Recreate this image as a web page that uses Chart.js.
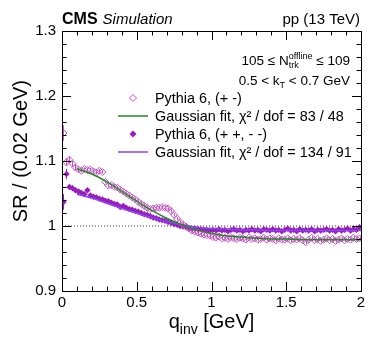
<!DOCTYPE html>
<html>
<head>
<meta charset="utf-8">
<script src="https://cdn.jsdelivr.net/npm/chart.js@4.4.0/dist/chart.umd.min.js"></script>
<style>
  html, body { margin: 0; padding: 0; background: #fff; }
</style>
</head>
<body>
<canvas id="c" width="374" height="357"></canvas>
<script>
// SR vs q_inv, bins of 0.02 GeV (bin centres 0.01 ... 1.99)
const binWidth = 0.02;

// Pythia 6, (+ -)
const srOpposite = [
  1.143, 1.098, 1.102, 1.096, 1.090, 1.087, 1.085, 1.088, 1.086, 1.087,
  1.084, 1.082, 1.085, 1.083, 1.068, 1.062, 1.063, 1.060, 1.059, 1.056,
  1.053, 1.050, 1.047, 1.044, 1.041, 1.037, 1.034, 1.031, 1.028, 1.026,
  1.027, 1.028, 1.028, 1.029, 1.028, 1.027, 1.023, 1.017, 1.011, 1.006,
  1.002, 0.999, 0.996, 0.993, 0.991, 0.990, 0.988, 0.987, 0.986, 0.985,
  0.983, 0.982, 0.984, 0.981, 0.982, 0.980, 0.983, 0.981, 0.980, 0.982,
  0.981, 0.979, 0.982, 0.980, 0.981, 0.979, 0.980, 0.982, 0.979, 0.981,
  0.980, 0.978, 0.981, 0.979, 0.979, 0.981, 0.978, 0.980, 0.979, 0.981,
  0.978, 0.975, 0.979, 0.982, 0.978, 0.980, 0.977, 0.979, 0.981, 0.978,
  0.980, 0.977, 0.979, 0.981, 0.978, 0.980, 0.979, 0.982, 0.980, 0.981
];
// Pythia 6, (+ +, - -)
const srSame = [
  1.037, 1.080, 1.060, 1.058, 1.055, 1.053, 1.051, 1.049, 1.055, 1.047,
  1.045, 1.044, 1.042, 1.041, 1.039, 1.038, 1.036, 1.034, 1.033, 1.029,
  1.031, 1.028, 1.026, 1.025, 1.023, 1.022, 1.020, 1.018, 1.017, 1.015,
  1.013, 1.012, 1.010, 1.009, 1.008, 1.006, 1.005, 1.003, 1.002, 1.000,
  0.999, 0.998, 0.997, 0.996, 0.996, 0.995, 0.995, 0.994, 0.994, 0.993,
  0.994, 0.993, 0.995, 0.993, 0.994, 0.992, 0.994, 0.995, 0.993, 0.994,
  0.992, 0.994, 0.993, 0.995, 0.993, 0.994, 0.992, 0.995, 0.994, 0.993,
  0.995, 0.993, 0.994, 0.992, 0.994, 0.996, 0.993, 0.994, 0.992, 0.995,
  0.993, 0.994, 0.993, 0.995, 0.992, 0.994, 0.993, 0.994, 0.995, 0.993,
  0.994, 0.992, 0.995, 0.993, 0.994, 0.996, 0.993, 0.995, 0.994, 0.998
];
// stat. errors, first bins only; the rest are smaller than the marker
const errOpposite = [0.012, 0.006, 0.005, 0.004, 0.004];
const errSame = [0.012, 0.008, 0.004, 0.004, 0.003];
const errDefault = 0.0025;

// Gaussian fits
const fitQ = [0.1, 0.2, 0.3, 0.4, 0.5, 0.6, 0.7, 0.8, 0.9, 1.0,
              1.1, 1.2, 1.3, 1.4, 1.5, 1.6, 1.7, 1.8, 1.9, 2.0];
const fitOpposite = [1.088, 1.080, 1.068, 1.053, 1.038, 1.024, 1.012, 1.002, 0.994, 0.989,
                     0.985, 0.983, 0.981, 0.980, 0.980, 0.979, 0.979, 0.979, 0.979, 0.979];
const fitSame = [1.049, 1.043, 1.035, 1.027, 1.020, 1.013, 1.007, 1.002, 0.998, 0.996,
                 0.995, 0.994, 0.994, 0.993, 0.993, 0.993, 0.993, 0.993, 0.993, 0.993];

const xTicks = [0, 0.5, 1, 1.5, 2];
const xTickLabels = ["0", "0.5", "1", "1.5", "2"];
const yTicks = [0.9, 1.0, 1.1, 1.2, 1.3];
const yTickLabels = ["0.9", "1", "1.1", "1.2", "1.3"];

const legendLabels = [
  "Pythia 6, (+ -)",
  "Gaussian fit, χ² / dof = 83 / 48",
  "Pythia 6, (+ +, - -)",
  "Gaussian fit, χ² / dof = 134 / 91"
];

const cOpen = "#c94ec9";
const cFilled = "#9a1cc0";
const cGreen = "#228b22";
const cViolet = "#8a44ee";
const FONT = "'Liberation Sans', Arial, Helvetica, sans-serif";

const toPts = (ys) => ys.map((v, i) => ({ x: binWidth / 2 + i * binWidth, y: v }));
const fitPts = (ys) => ys.map((v, i) => ({ x: fitQ[i], y: v }));

// everything ROOT-like: frame, inner ticks, titles, labels, legend
const rootStyle = {
  id: "rootStyle",
  beforeDatasetsDraw(chart) {
    const ctx = chart.ctx;
    const xs = chart.scales.x, ys = chart.scales.y;
    const bars = [[srOpposite, errOpposite, cOpen], [srSame, errSame, cFilled]];
    ctx.save();
    ctx.lineWidth = 1;
    bars.forEach(([vals, errs, col]) => {
      ctx.strokeStyle = col;
      vals.forEach((v, i) => {
        const e = errs[i] ?? errDefault;
        const px = Math.round(xs.getPixelForValue(binWidth / 2 + i * binWidth)) + 0.5;
        ctx.beginPath();
        ctx.moveTo(px, ys.getPixelForValue(v - e));
        ctx.lineTo(px, ys.getPixelForValue(v + e));
        ctx.stroke();
      });
    });
    ctx.restore();
  },
  afterDraw(chart) {
    const ctx = chart.ctx;
    const { left, right, top, bottom } = chart.chartArea;
    const xs = chart.scales.x, ys = chart.scales.y;
    ctx.save();

    // frame
    ctx.strokeStyle = "#000";
    ctx.lineWidth = 1;
    ctx.strokeRect(Math.round(left) + 0.5, Math.round(top) + 0.5,
                   Math.round(right - left), Math.round(bottom - top));

    // ticks (inside, all four sides)
    ctx.beginPath();
    for (let k = 0; k <= 20; k++) {
      const v = 0.9 + k * 0.02;
      const py = Math.round(ys.getPixelForValue(v)) + 0.5;
      const len = k % 5 === 0 ? 9 : 4.5;
      ctx.moveTo(left, py); ctx.lineTo(left + len, py);
      ctx.moveTo(right, py); ctx.lineTo(right - len, py);
    }
    for (let k = 0; k <= 20; k++) {
      const v = k * 0.1;
      const px = Math.round(xs.getPixelForValue(v)) + 0.5;
      const len = k % 5 === 0 ? 9 : 4.5;
      ctx.moveTo(px, bottom); ctx.lineTo(px, bottom - len);
      ctx.moveTo(px, top); ctx.lineTo(px, top + len);
    }
    ctx.stroke();

    ctx.fillStyle = "#000";
    ctx.textBaseline = "alphabetic";

    // CMS Simulation / pp (13 TeV)
    ctx.font = "bold 16px " + FONT;
    ctx.textAlign = "left";
    ctx.fillText("CMS", left, 24);
    const wCms = ctx.measureText("CMS").width;
    ctx.font = "italic 15px " + FONT;
    ctx.fillText("Simulation", left + wCms + 5, 24);
    ctx.font = "15px " + FONT;
    ctx.textAlign = "right";
    ctx.fillText("pp (13 TeV)", right - 1, 24);

    // rich text helper: segments drawn right-aligned at xr
    const rich = (segs, xr, y) => {
      let w = 0;
      segs.forEach(s => {
        ctx.font = s.size + "px " + FONT;
        s.w = Math.max(...s.t.map(t => ctx.measureText(t).width));
        w += s.w;
      });
      let x = xr - w;
      ctx.textAlign = "left";
      segs.forEach(s => {
        ctx.font = s.size + "px " + FONT;
        s.t.forEach((t, j) => ctx.fillText(t, x, y + (s.dy ? s.dy[j] : 0)));
        x += s.w;
      });
    };
    rich([
      { t: ["105 ≤ N"], size: 13.5 },
      { t: ["offline", "trk"], size: 9, dy: [-6, 3] },
      { t: [" ≤ 109"], size: 13.5 }
    ], 350, 65);
    rich([
      { t: ["0.5 < k"], size: 13.5 },
      { t: ["T"], size: 9, dy: [3] },
      { t: [" < 0.7 GeV"], size: 13.5 }
    ], 350, 85);

    // legend
    const rowsY = [98, 116, 134, 152];
    ctx.font = "14.4px " + FONT;
    ctx.textAlign = "left";
    ctx.textBaseline = "middle";
    legendLabels.forEach((lab, i) => ctx.fillText(lab, 155, rowsY[i] + 1));
    const diamond = (cx, cy, r) => {
      ctx.beginPath();
      ctx.moveTo(cx, cy - r); ctx.lineTo(cx + r, cy);
      ctx.lineTo(cx, cy + r); ctx.lineTo(cx - r, cy); ctx.closePath();
    };
    ctx.lineWidth = 1;
    ctx.strokeStyle = cOpen;
    diamond(133, rowsY[0], 3.5); ctx.stroke();
    ctx.fillStyle = cFilled;
    diamond(133, rowsY[2], 3.5); ctx.fill();
    ctx.lineWidth = 1.5;
    ctx.strokeStyle = cGreen;
    ctx.beginPath(); ctx.moveTo(118, rowsY[1]); ctx.lineTo(148, rowsY[1]); ctx.stroke();
    ctx.strokeStyle = cViolet;
    ctx.beginPath(); ctx.moveTo(118, rowsY[3]); ctx.lineTo(148, rowsY[3]); ctx.stroke();

    // axis titles
    ctx.fillStyle = "#000";
    ctx.textBaseline = "alphabetic";
    ctx.font = "20px " + FONT;
    const wq = ctx.measureText("q").width;
    const wg = ctx.measureText(" [GeV]").width;
    ctx.font = "14px " + FONT;
    const wi = ctx.measureText("inv").width;
    let tx = (left + right) / 2 - (wq + wi + wg) / 2;
    ctx.textAlign = "left";
    ctx.font = "20px " + FONT;
    ctx.fillText("q", tx, 328);
    ctx.font = "14px " + FONT;
    ctx.fillText("inv", tx + wq, 334);
    ctx.font = "20px " + FONT;
    ctx.fillText(" [GeV]", tx + wq + wi, 328);

    ctx.translate(27, 80);
    ctx.rotate(-Math.PI / 2);
    ctx.textAlign = "right";
    ctx.fillText("SR / (0.02 GeV)", 0, 0);
    ctx.restore();
  }
};

new Chart(document.getElementById("c"), {
  type: "scatter",
  data: {
    datasets: [
      { label: legendLabels[1], data: fitPts(fitOpposite), showLine: true,
        borderColor: cGreen, borderWidth: 1.5, pointRadius: 0,
        cubicInterpolationMode: "monotone", order: 0 },
      { label: legendLabels[3], data: fitPts(fitSame), showLine: true,
        borderColor: cViolet, borderWidth: 1.5, pointRadius: 0,
        cubicInterpolationMode: "monotone", order: 0 },
      { label: legendLabels[0], data: toPts(srOpposite), pointStyle: "rectRot",
        pointRadius: 3.5, borderWidth: 1, borderColor: cOpen,
        backgroundColor: "rgba(0,0,0,0)", order: 1 },
      { label: legendLabels[2], data: toPts(srSame), pointStyle: "rectRot",
        pointRadius: 3.2, borderWidth: 0, borderColor: cFilled,
        backgroundColor: cFilled, order: 2 },
      { label: "ref", data: [{ x: 0, y: 1 }, { x: 2, y: 1 }], showLine: true,
        borderColor: "#333", borderWidth: 1, borderDash: [1, 2], pointRadius: 0, order: 5 }
    ]
  },
  options: {
    responsive: false,
    animation: false,
    layout: { padding: { left: 0, right: 13, top: 31, bottom: 0 } },
    plugins: { legend: { display: false }, tooltip: { enabled: false } },
    scales: {
      x: {
        type: "linear", min: 0, max: 2,
        afterFit(s) { s.height = 66; },
        afterBuildTicks(s) { s.ticks = xTicks.map(v => ({ value: v })); },
        ticks: { callback: (v, i) => xTickLabels[i], color: "#000", padding: 3,
                 maxRotation: 0, autoSkip: false, font: { family: FONT, size: 15 } },
        grid: { display: false, drawTicks: false },
        border: { display: false }
      },
      y: {
        type: "linear", min: 0.9, max: 1.3,
        afterFit(s) { s.width = 62; },
        afterBuildTicks(s) { s.ticks = yTicks.map(v => ({ value: v })); },
        ticks: { callback: (v, i) => yTickLabels[i], color: "#000", padding: 6,
                 autoSkip: false, font: { family: FONT, size: 15 } },
        grid: { display: false, drawTicks: false },
        border: { display: false }
      }
    }
  },
  plugins: [rootStyle]
});
</script>
</body>
</html>
